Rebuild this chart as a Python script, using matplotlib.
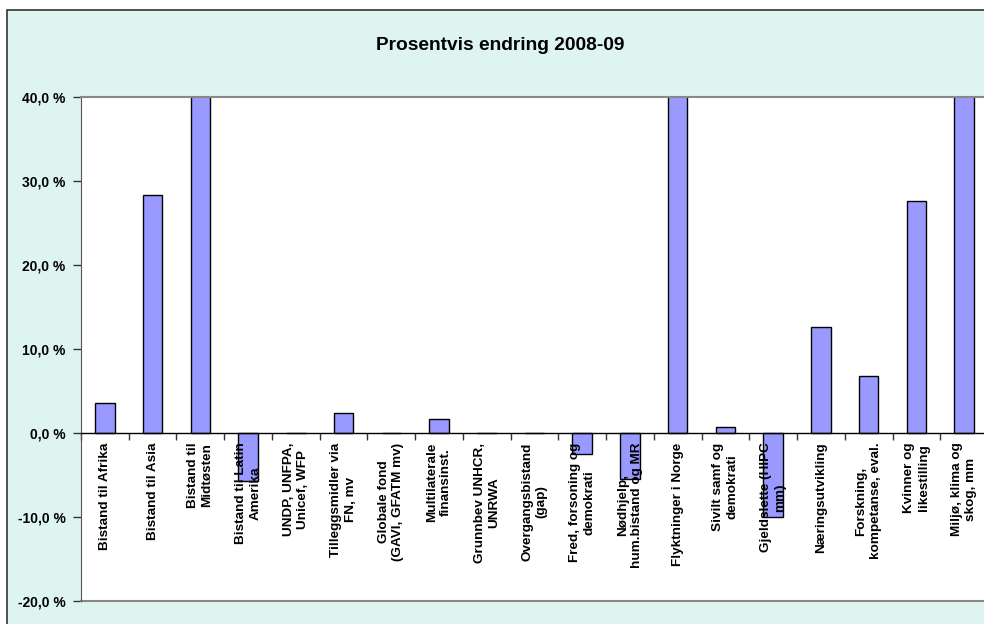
import matplotlib
matplotlib.use("Agg")
import matplotlib.pyplot as plt
from matplotlib.patches import Rectangle
from matplotlib.ticker import FuncFormatter, FixedLocator

categories = [
    "Bistand til Afrika", "Bistand til Asia", "Bistand til\nMidtøsten",
    "Bistand til Latin\nAmerika", "UNDP, UNFPA,\nUnicef, WFP",
    "Tilleggsmidler via\nFN, mv", "Globale fond\n(GAVI, GFATM mv)",
    "Multilaterale\nfinansinst.", "Grunnbev UNHCR,\nUNRWA",
    "Overgangsbistand\n(gap)", "Fred, forsoning og\ndemokrati",
    "Nødhjelp,\nhum.bistand og MR", "Flyktninger i Norge",
    "Sivilt samf og\ndemokrati", "Gjeldslette (HIPC\nmm)", "Næringsutvikling",
    "Forskning,\nkompetanse, eval.", "Kvinner og\nlikestilling",
    "Miljø, klima og\nskog, mm",
]
values = [3.6, 28.3, 50.0, -5.7, 0.0, 2.4, 0.0, 1.7, 0.0, 0.0, -2.5, -5.5,
          50.0, 0.75, -10.0, 12.6, 6.8, 27.6, 50.0]
yticks = [-20, -10, 0, 10, 20, 30, 40]
title = "Prosentvis endring 2008-09"

plt.rcParams["font.family"] = ["Liberation Sans", "DejaVu Sans"]

W, H = 984, 624
fig = plt.figure(figsize=(W / 100, H / 100), dpi=100)
fig.patch.set_facecolor("white")
bg = Rectangle((7 / W, -0.1), 1.2, (H - 10) / H + 0.1,
               transform=fig.transFigure, facecolor="#DDF4F0",
               edgecolor="#333333", linewidth=1.2, zorder=-10)
fig.add_artist(bg)

left, right, top, bottom = 81, 988, 97, 601
ax = fig.add_axes([left / W, (H - bottom) / H, (right - left) / W, (bottom - top) / H])
ax.set_zorder(1)
ax.set_facecolor("white")

x = list(range(len(categories)))
ax.bar(x, values, width=0.41, color="#9999FF", edgecolor="black", linewidth=1.0, zorder=1)

ax.set_xlim(-0.5, len(categories) - 0.5)
ax.set_ylim(-20, 40)

ax.spines["left"].set_color("#555555")
ax.spines["top"].set_color("#888888")
ax.spines["top"].set_linewidth(1.5)
ax.spines["right"].set_visible(False)
ax.spines["bottom"].set_position(("data", 0))
ax.spines["bottom"].set_color("black")
ax.spines["bottom"].set_linewidth(1.0)
ax.axhline(-20, color="#888888", linewidth=1.5, clip_on=False)

ax.yaxis.set_major_locator(FixedLocator(yticks))
ax.yaxis.set_major_formatter(FuncFormatter(lambda v, p: f"{v:.1f} %".replace(".", ",")))
ax.tick_params(axis="y", direction="out", length=6, width=1, color="#333333", pad=5)
for lab in ax.get_yticklabels():
    lab.set_fontweight("bold")
    lab.set_fontsize(10)

ax.xaxis.set_major_locator(FixedLocator([i - 0.5 for i in range(len(categories) + 1)]))
ax.xaxis.set_major_formatter(FuncFormatter(lambda v, p: ""))
ax.xaxis.set_minor_locator(FixedLocator(x))
ax.set_xticklabels(categories, minor=True, rotation=90, fontsize=9.7, fontweight="bold",
                   va="top", ha="center", multialignment="center", linespacing=1.25)
ax.tick_params(axis="x", which="major", direction="out", length=5, width=1, color="#333333")
ax.tick_params(axis="x", which="minor", length=0, pad=7)

fig.text(500 / W, 1 - 46 / H, title, ha="center", va="center", fontsize=13.8, fontweight="bold")

fig.savefig("out.png", dpi=100, facecolor=fig.get_facecolor())
